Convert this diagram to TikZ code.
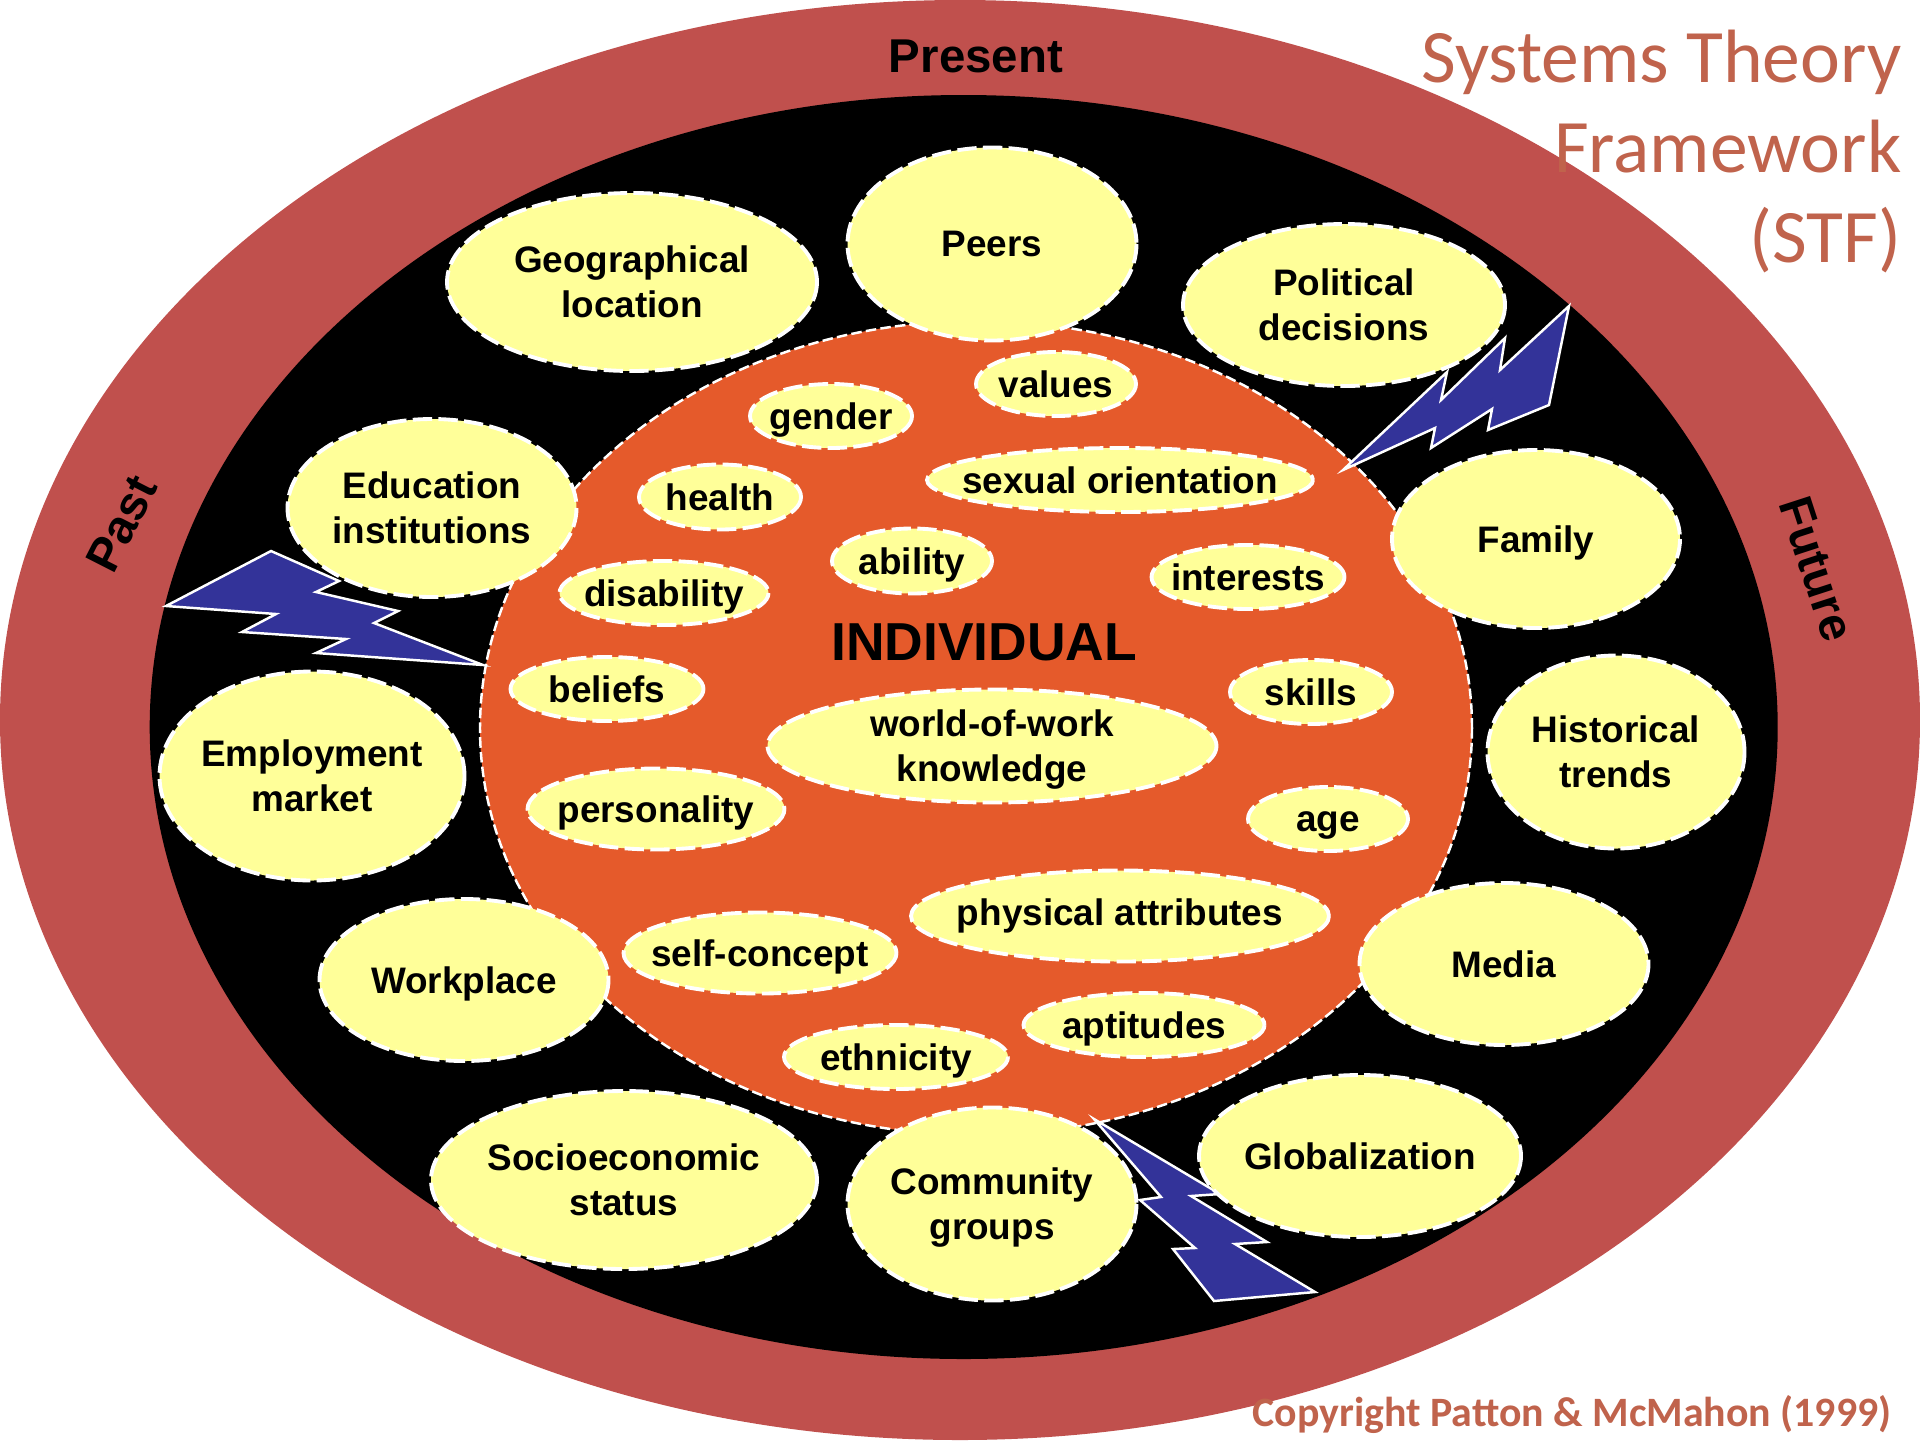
\documentclass[tikz,border=0pt]{standalone}
\usepackage{fontspec}
\setmainfont{Liberation Sans}
\newfontfamily\titlefont{Carlito}
\definecolor{ringred}{HTML}{C0504D}
\definecolor{titlered}{HTML}{C0634C}
\definecolor{coreorange}{HTML}{E55A2B}
\definecolor{blobyellow}{HTML}{FFFF99}
\definecolor{boltblue}{HTML}{333399}
\tikzset{
  blob/.style={draw=white, fill=blobyellow, line width=1.1pt, dash pattern=on 5.5pt off 1.8pt},
  blobtext/.style={align=center, inner sep=0pt, text depth=0pt, font=\fontsize{10.5}{12.8}\selectfont\bfseries, execute at begin node={\vphantom{A}}},
  bolt/.style={draw=white, fill=boltblue, line width=0.7pt, line join=miter},
  ringtext/.style={inner sep=0pt, font=\fontsize{13.5}{16}\selectfont\bfseries}
}
\begin{document}
\begin{tikzpicture}[y=-1cm]
  \useasboundingbox (0, 0) rectangle (19.2, 14.4);
  \fill[ringred] (9.6, 7.2) ellipse (9.6 and 7.2);
  \fill[black] (9.637, 7.27) ellipse (8.14 and 6.32);
  \draw[fill=coreorange, draw=white, line width=0.7pt, dash pattern=on 3pt off 1.2pt] (9.76, 7.28) ellipse (4.96 and 4.07);

  \draw[bolt] (13.43, 4.70) -- (14.47, 3.72) -- (14.41, 4.00) -- (15.05, 3.38) -- (15.00, 3.70) -- (15.69, 3.06)
    -- (15.49, 4.05) -- (14.88, 4.30) -- (14.92, 4.09) -- (14.31, 4.48) -- (14.35, 4.28) -- cycle;
  \draw[bolt] (1.66, 6.06) -- (2.71, 5.51) -- (3.39, 5.81) -- (3.16, 5.92) -- (3.98, 6.11) -- (3.74, 6.23)
    -- (4.83, 6.65) -- (3.16, 6.53) -- (3.46, 6.39) -- (2.42, 6.32) -- (2.76, 6.14) -- cycle;
  \draw[bolt] (10.94, 11.19) -- (12.20, 11.94) -- (11.91, 11.96) -- (12.67, 12.42) -- (12.35, 12.44) -- (13.15, 12.92)
    -- (12.14, 13.01) -- (11.73, 12.49) -- (11.95, 12.48) -- (11.40, 12.00) -- (11.61, 11.97) -- cycle;

  % outer ring of influences
  \draw[blob] (6.32, 2.82) ellipse (1.85 and 0.89) node[blobtext] (geo) {Geographical\\location};
  \draw[blob] (9.92, 2.44) ellipse (1.445 and 0.965) node[blobtext] (peers) {Peers};
  \draw[blob] (13.44, 3.05) ellipse (1.61 and 0.81) node[blobtext] (political) {Political\\decisions};
  \draw[blob] (4.32, 5.08) ellipse (1.445 and 0.89) node[blobtext] (education) {Education\\institutions};
  \draw[blob] (15.36, 5.39) ellipse (1.44 and 0.89) node[blobtext] (family) {Family};
  \draw[blob] (3.12, 7.76) ellipse (1.525 and 1.045) node[blobtext] (employment) {Employment\\market};
  \draw[blob] (16.16, 7.52) ellipse (1.285 and 0.965) node[blobtext] (historical) {Historical\\trends};
  \draw[blob] (4.64, 9.80) ellipse (1.445 and 0.81) node[blobtext] (workplace) {Workplace};
  \draw[blob] (15.04, 9.64) ellipse (1.445 and 0.81) node[blobtext] (media) {Media};
  \draw[blob] (6.24, 11.80) ellipse (1.93 and 0.89) node[blobtext] (socio) {Socioeconomic\\status};
  \draw[blob] (9.92, 12.04) ellipse (1.445 and 0.965) node[blobtext] (community) {Community\\groups};
  \draw[blob] (13.60, 11.56) ellipse (1.61 and 0.81) node[blobtext] (global) {Globalization};

  % inside the individual
  \draw[blob] (10.56, 3.84) ellipse (0.80 and 0.32) node[blobtext] (values) {values};
  \draw[blob] (8.31, 4.16) ellipse (0.81 and 0.32) node[blobtext] (gender) {gender};
  \draw[blob] (11.20, 4.80) ellipse (1.93 and 0.32) node[blobtext] (sexual) {sexual orientation};
  \draw[blob] (7.20, 4.97) ellipse (0.81 and 0.325) node[blobtext] (health) {health};
  \draw[blob] (9.12, 5.61) ellipse (0.80 and 0.325) node[blobtext] (ability) {ability};
  \draw[blob] (6.64, 5.93) ellipse (1.045 and 0.32) node[blobtext] (disability) {disability};
  \draw[blob] (12.48, 5.77) ellipse (0.965 and 0.32) node[blobtext] (interests) {interests};
  \draw[blob] (6.07, 6.89) ellipse (0.965 and 0.32) node[blobtext] (beliefs) {beliefs};
  \draw[blob] (13.11, 6.92) ellipse (0.81 and 0.32) node[blobtext] (skills) {skills};
  \draw[blob] (9.92, 7.46) ellipse (2.245 and 0.565) node[blobtext] (world) {world-of-work\\knowledge};
  \draw[blob] (6.56, 8.09) ellipse (1.285 and 0.405) node[blobtext] (personality) {personality};
  \draw[blob] (13.28, 8.19) ellipse (0.80 and 0.32) node[blobtext] (age) {age};
  \draw[blob] (11.20, 9.16) ellipse (2.09 and 0.455) node[blobtext, yshift=1pt] (physical) {physical attributes};
  \draw[blob] (7.60, 9.53) ellipse (1.365 and 0.405) node[blobtext] (self) {self-concept};
  \draw[blob] (11.44, 10.25) ellipse (1.205 and 0.32) node[blobtext] (aptitudes) {aptitudes};
  \draw[blob] (8.96, 10.57) ellipse (1.12 and 0.32) node[blobtext] (ethnicity) {ethnicity};

  \node[inner sep=0pt, font=\fontsize{15.2}{18}\selectfont\bfseries] (individual) at (9.84, 6.42) {INDIVIDUAL};
  \node[ringtext] (present) at (9.76, 0.56) {Present};
  \node[ringtext, rotate=63] (past) at (1.22, 5.24) {Past};
  \node[ringtext, rotate=-72] (future) at (18.17, 5.69) {Future};

  \node[anchor=north east, inner sep=0pt, align=right, text=titlered, font=\titlefont\fontsize{21.5}{25.6}\selectfont] (title) at (19.02, 0.29) {Systems Theory\\Framework\\(STF)};
  \node[anchor=east, inner sep=0pt, text=titlered, font=\titlefont\bfseries\fontsize{11.9}{13}\selectfont] (copyright) at (18.92, 14.14) {Copyright Patton \& McMahon (1999)};
\end{tikzpicture}
\end{document}
